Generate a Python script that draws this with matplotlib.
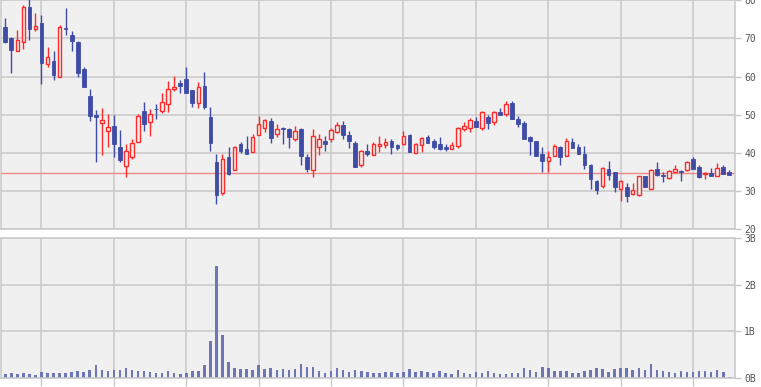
import matplotlib
matplotlib.use("Agg")
import matplotlib.pyplot as plt
import numpy as np

# OHLC, one candle per entry (121 candles)
opens = [72.96, 70.17, 66.6, 68.96, 78.2, 72.6, 74.0, 63.2, 64.1, 60.0,
         72.7, 70.9, 69.04, 62.0, 54.96, 50.0, 47.7, 45.65, 47.1, 41.5,
         36.5, 38.9, 42.8, 51.0, 48.0, 51.56, 50.9, 52.8, 56.7, 58.35,
         59.4, 56.5, 53.0, 57.6, 49.5, 37.5, 29.5, 39.0, 35.6, 42.2,
         41.1, 40.2, 44.6, 46.5, 48.4, 44.96, 46.5, 46.35, 43.6, 46.2,
         38.8, 35.5, 41.5, 43.2, 43.7, 45.4, 47.4, 44.8, 42.7, 36.9,
         40.6, 39.5, 41.7, 42.0, 43.2, 42.0, 42.3, 44.8, 40.0, 42.1,
         44.1, 43.2, 42.2, 41.65, 40.96, 41.7, 46.2, 46.5, 48.4, 46.5,
         49.5, 48.1, 50.7, 50.2, 53.1, 48.8, 47.7, 44.1, 43.0, 39.7,
         37.8, 39.2, 41.5, 39.1, 42.96, 41.4, 39.7, 36.8, 32.6, 31.4,
         35.65, 34.9, 30.5, 31.1, 29.2, 28.9, 33.8, 30.5, 35.8, 34.2,
         33.4, 35.0, 35.2, 35.5, 38.3, 36.4, 34.5, 34.6, 34.0, 36.4,
         34.9]
closes = [69.04, 67.04, 69.5, 78.17, 72.5, 73.2, 63.65, 65.1, 60.3, 72.96,
          72.5, 69.4, 61.04, 57.3, 49.7, 49.3, 48.6, 46.9, 42.2, 38.0,
          40.35, 42.6, 49.7, 47.5, 50.2, 51.4, 53.3, 56.7, 57.3, 57.6,
          55.8, 52.96, 57.2, 51.9, 42.5, 28.8, 38.4, 34.4, 41.4, 40.4,
          39.65, 44.1, 47.6, 48.7, 43.8, 46.3, 46.2, 44.1, 45.6, 39.1,
          35.7, 44.3, 43.7, 42.4, 46.1, 47.3, 44.6, 43.1, 36.3, 40.6,
          39.65, 42.2, 42.35, 42.96, 41.5, 41.2, 44.5, 40.1, 42.35, 43.8,
          42.5, 41.4, 41.1, 40.9, 42.1, 46.6, 47.1, 48.7, 46.7, 50.8,
          47.7, 50.7, 50.0, 52.8, 48.8, 47.5, 43.6, 43.0, 39.1, 37.8,
          39.0, 41.7, 38.9, 43.2, 41.2, 39.65, 36.8, 33.1, 30.35, 35.9,
          34.2, 30.96, 32.5, 28.7, 30.35, 33.8, 31.0, 35.6, 34.1, 34.0,
          35.3, 35.65, 34.96, 37.5, 35.8, 33.65, 34.7, 34.0, 36.1, 34.5,
          34.3]
highs = [75.4, 70.5, 72.1, 78.7, 80.5, 76.6, 76.1, 67.7, 66.7, 73.5,
         78.0, 71.9, 69.3, 62.6, 56.8, 51.2, 51.65, 50.2, 50.0, 46.1,
         42.35, 43.7, 50.2, 53.4, 51.5, 52.8, 55.7, 58.9, 60.1, 59.0,
         62.5, 56.5, 58.6, 61.2, 52.1, 39.6, 39.7, 41.65, 41.7, 42.9,
         44.5, 44.96, 49.7, 49.0, 49.2, 47.65, 46.7, 46.6, 47.0, 46.4,
         39.8, 46.2, 45.0, 44.3, 46.4, 48.2, 48.4, 45.8, 43.2, 40.8,
         42.2, 42.9, 44.3, 44.0, 43.5, 42.4, 45.6, 45.0, 42.6, 44.1,
         44.6, 43.5, 44.1, 42.4, 42.96, 46.9, 48.2, 49.1, 49.3, 51.0,
         50.0, 51.0, 51.65, 53.7, 53.65, 49.6, 48.3, 44.3, 43.2, 41.65,
         40.6, 42.2, 41.9, 44.0, 44.0, 42.4, 41.7, 36.96, 32.96, 36.4,
         37.8, 35.0, 32.8, 32.1, 32.1, 34.0, 34.0, 35.8, 37.5, 34.9,
         35.6, 36.9, 35.4, 37.8, 38.9, 36.7, 34.9, 35.9, 37.2, 36.7,
         35.4]
lows = [68.8, 61.0, 66.6, 67.3, 69.65, 72.0, 58.0, 62.4, 59.0, 60.0,
        70.9, 66.7, 60.0, 57.3, 48.3, 37.5, 39.3, 41.5, 38.9, 37.6,
        33.65, 38.3, 42.8, 45.8, 44.5, 48.8, 50.35, 50.7, 56.1, 55.8,
        55.8, 51.9, 51.7, 51.5, 40.6, 26.6, 28.8, 34.2, 35.6, 39.9,
        39.65, 40.2, 44.6, 45.4, 42.5, 44.1, 42.2, 41.2, 43.2, 36.8,
        34.9, 33.65, 39.4, 40.4, 42.8, 45.2, 43.5, 41.2, 36.3, 36.3,
        39.1, 39.5, 40.1, 41.2, 39.65, 40.7, 42.1, 40.1, 40.0, 40.2,
        42.5, 41.1, 40.7, 40.35, 40.96, 41.2, 45.7, 45.4, 46.7, 45.9,
        46.2, 47.2, 50.0, 49.7, 48.8, 46.7, 43.6, 39.3, 39.1, 34.9,
        34.9, 39.2, 36.8, 39.1, 41.2, 39.65, 35.7, 30.5, 29.2, 30.8,
        32.8, 29.7, 27.4, 27.0, 29.0, 28.7, 30.9, 30.5, 33.9, 32.35,
        33.2, 35.0, 32.7, 35.3, 35.8, 33.4, 33.1, 34.0, 34.0, 34.5,
        34.3]
# volume in billions
volumes = [0.086, 0.107, 0.086, 0.107, 0.086, 0.064, 0.129, 0.107, 0.107, 0.107,
           0.107, 0.129, 0.15, 0.129, 0.171, 0.279, 0.171, 0.15, 0.171, 0.171,
           0.214, 0.171, 0.15, 0.15, 0.129, 0.107, 0.107, 0.15, 0.107, 0.086,
           0.107, 0.15, 0.15, 0.279, 0.793, 2.4, 0.921, 0.343, 0.214, 0.193,
           0.193, 0.171, 0.279, 0.193, 0.214, 0.171, 0.193, 0.171, 0.193, 0.3,
           0.236, 0.236, 0.15, 0.107, 0.15, 0.214, 0.171, 0.129, 0.171, 0.15,
           0.129, 0.107, 0.107, 0.128, 0.128, 0.106, 0.128, 0.19, 0.128, 0.15,
           0.128, 0.106, 0.15, 0.106, 0.085, 0.17, 0.106, 0.085, 0.128, 0.106,
           0.15, 0.106, 0.085, 0.085, 0.106, 0.106, 0.213, 0.17, 0.128, 0.234,
           0.213, 0.15, 0.15, 0.15, 0.106, 0.106, 0.15, 0.17, 0.213, 0.19,
           0.128, 0.19, 0.213, 0.213, 0.17, 0.213, 0.17, 0.298, 0.17, 0.15,
           0.128, 0.106, 0.15, 0.128, 0.128, 0.15, 0.15, 0.128, 0.17, 0.128,
           0.02]
last_price = 34.65

price_ticks = [20, 30, 40, 50, 60, 70, 80]
price_labels = ["20", "30", "40", "50", "60", "70", "80"]
vol_ticks = [0, 1, 2, 3]
vol_labels = ["0B", "1B", "2B", "3B"]

UP = "#ff2a2a"
DOWN = "#3f4ca5"
VOLC = "#6e76b4"
BG = "#f0f0f0"
GRID = "#c8c8c8"
TXT = "#555555"

plt.rcParams["font.family"] = "DejaVu Sans Mono"

W, H = 761, 387
fig = plt.figure(figsize=(W / 100, H / 100), dpi=100)
ax = fig.add_axes([1 / W, (H - 229) / H, 734 / W, 229 / H])
axv = fig.add_axes([1 / W, (H - 378) / H, 734 / W, 140 / H])

x = np.arange(len(opens))
o = np.array(opens)
c = np.array(closes)
up = c >= o
xlim = (-0.71, 120.95)
grid_pos = list(range(6, len(opens), 12))

for a in (ax, axv):
    a.set_facecolor(BG)
    a.set_xlim(*xlim)
    a.set_xticks(grid_pos)
    a.grid(True, color=GRID, linewidth=1.1)
    a.set_axisbelow(True)
    a.yaxis.tick_right()
    a.tick_params(axis="y", colors=GRID, labelcolor=TXT, length=4.5, width=1,
                  labelsize=7, pad=2)
    for s in a.spines.values():
        s.set_color(GRID)
        s.set_linewidth(1.1)

# price panel
ax.axhline(last_price, color="#f08888", linewidth=1, zorder=0.9)
ax.vlines(x[up], np.array(lows)[up], np.array(highs)[up], color=UP, linewidth=1)
ax.vlines(x[~up], np.array(lows)[~up], np.array(highs)[~up], color=DOWN, linewidth=1)
body = np.maximum(np.abs(c - o), 0.18)
bottom = np.minimum(o, c)
ax.bar(x[up], body[up], bottom=bottom[up], width=0.58, facecolor=BG,
       edgecolor=UP, linewidth=1, zorder=2.5)
ax.bar(x[~up], body[~up], bottom=bottom[~up], width=0.62, color=DOWN,
       edgecolor=DOWN, linewidth=0.6, zorder=2.5)
ax.set_ylim(20, 80.1)
ax.set_yticks(price_ticks)
ax.set_yticklabels(price_labels)
ax.tick_params(axis="x", length=0, labelbottom=False)
ax.spines["top"].set_visible(False)

# volume panel
axv.bar(x, volumes, width=0.42, color=VOLC)
axv.set_ylim(0, 3)
axv.set_yticks(vol_ticks)
axv.set_yticklabels(vol_labels)
axv.tick_params(axis="x", colors=GRID, length=6, width=1, labelbottom=False)

fig.savefig("out.png", dpi=100)
